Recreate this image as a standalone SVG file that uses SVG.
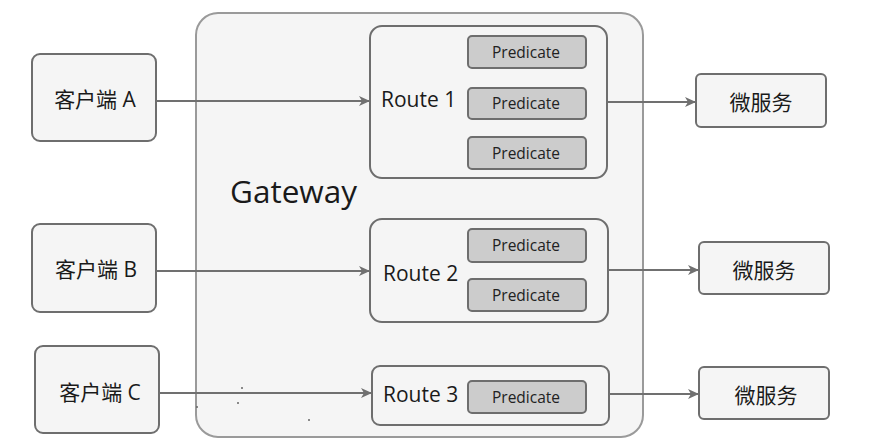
<svg xmlns="http://www.w3.org/2000/svg" width="881" height="446" viewBox="0 0 881 446">
<defs>
<style>
.box{fill:#f5f5f5;stroke:#6e6e6e;stroke-width:2}
.gw{fill:#f5f5f5;stroke:#9a9a9a;stroke-width:2}
.pred{fill:#cccccc;stroke:#6e6e6e;stroke-width:2}
.t{font-family:"Open Sans","Noto Sans","Noto Sans CJK SC",sans-serif;fill:#1a1a1a}
.cn{font-size:21px;text-anchor:middle}
.rt{font-size:21px}
.pt{font-size:15.5px;text-anchor:middle;fill:#222}
.ln{stroke:#707070;stroke-width:2;fill:none;marker-end:url(#arr)}
</style>
<marker id="arr" markerWidth="12" markerHeight="10" refX="11" refY="5" orient="auto" markerUnits="userSpaceOnUse">
<path d="M0,0 L11,5 L0,10 L3,5 Z" fill="#707070"/>
</marker>
</defs>
<rect width="881" height="446" fill="#ffffff"/>
<g id="gateway">
<rect class="gw" x="196" y="13" width="447" height="424" rx="22"/>
<text class="t" x="230" y="203" font-size="31.5">Gateway</text>
<circle cx="242" cy="388" r="1" fill="#666"/>
<circle cx="238" cy="403" r="1" fill="#666"/>
<circle cx="197" cy="407" r="1" fill="#666"/>
<circle cx="309" cy="420" r="1" fill="#666"/>
</g>
<g id="clientA"><rect class="box" x="32" y="54" width="124" height="87" rx="8"/><text class="t cn" x="95" y="107">客户端 A</text></g>
<g id="clientB"><rect class="box" x="32" y="224" width="124" height="88" rx="8"/><text class="t cn" x="96" y="277">客户端 B</text></g>
<g id="clientC"><rect class="box" x="35" y="346" width="124" height="87" rx="8"/><text class="t cn" x="100" y="400">客户端 C</text></g>
<g id="route1">
<rect class="box" x="370" y="26" width="237" height="152" rx="12"/>
<text class="t rt" x="381" y="107">Route 1</text>
<rect class="pred" x="468" y="36" width="118" height="32" rx="4"/><text class="t pt" x="526" y="58">Predicate</text>
<rect class="pred" x="468" y="88" width="118" height="31" rx="4"/><text class="t pt" x="526" y="109">Predicate</text>
<rect class="pred" x="468" y="137" width="118" height="32" rx="4"/><text class="t pt" x="526" y="159">Predicate</text>
</g>
<g id="route2">
<rect class="box" x="370" y="219" width="238" height="103" rx="12"/>
<text class="t rt" x="383" y="281">Route 2</text>
<rect class="pred" x="468" y="229" width="118" height="33" rx="4"/><text class="t pt" x="526" y="251">Predicate</text>
<rect class="pred" x="468" y="279" width="118" height="32" rx="4"/><text class="t pt" x="526" y="301">Predicate</text>
</g>
<g id="route3">
<rect class="box" x="372" y="366" width="237" height="59" rx="8"/>
<text class="t rt" x="383" y="402">Route 3</text>
<rect class="pred" x="468" y="381" width="118" height="32" rx="4"/><text class="t pt" x="526" y="403">Predicate</text>
</g>
<g id="svc1"><rect class="box" x="696" y="74" width="130" height="53" rx="5"/><text class="t cn" x="761" y="110">微服务</text></g>
<g id="svc2"><rect class="box" x="699" y="242" width="130" height="52" rx="5"/><text class="t cn" x="764" y="278">微服务</text></g>
<g id="svc3"><rect class="box" x="699" y="367" width="130" height="52" rx="5"/><text class="t cn" x="766" y="403">微服务</text></g>
<g id="connectors">
<line class="ln" x1="156" y1="101" x2="370" y2="101"/>
<line class="ln" x1="156" y1="271" x2="370" y2="271"/>
<line class="ln" x1="159" y1="393" x2="372" y2="393"/>
<line class="ln" x1="607" y1="102" x2="696" y2="102"/>
<line class="ln" x1="608" y1="270" x2="699" y2="270"/>
<line class="ln" x1="609" y1="394" x2="699" y2="394"/>
</g>
</svg>
